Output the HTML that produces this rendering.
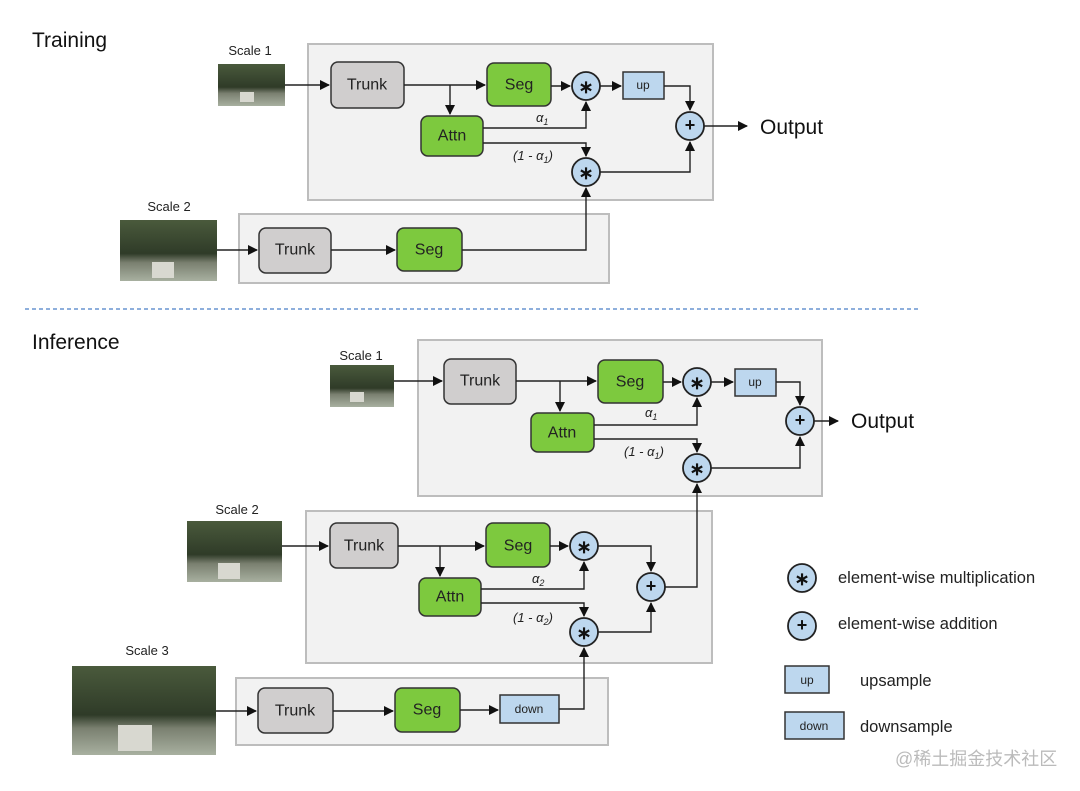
<!DOCTYPE html>
<html><head><meta charset="utf-8"><style>
html,body{margin:0;padding:0;background:#fff;}
svg{display:block;}
text{font-family:"Liberation Sans","Noto Sans CJK SC",sans-serif;}
</style></head><body>
<svg width="1080" height="791" viewBox="0 0 1080 791" xmlns="http://www.w3.org/2000/svg">
<defs>
<marker id="a" markerWidth="10" markerHeight="10" refX="9" refY="5" orient="auto" markerUnits="userSpaceOnUse"><path d="M0,0 L10,5 L0,10 z" fill="#111"/></marker>
<linearGradient id="img" x1="0" y1="0" x2="0" y2="1"><stop offset="0" stop-color="#4a5a3c"/><stop offset="0.55" stop-color="#2f3b28"/><stop offset="0.7" stop-color="#7a8070"/><stop offset="1" stop-color="#a8b0a0"/></linearGradient>
</defs>
<style>
.bx{fill:#f2f2f2;stroke:#bdbdbd;stroke-width:2}
.tr{fill:#d0cece;stroke:#333;stroke-width:1.5}
.gr{fill:#7dc93e;stroke:#333;stroke-width:1.5}
.bl{fill:#bdd7ee;stroke:#333;stroke-width:1.5}
.ci{fill:#bdd7ee;stroke:#222;stroke-width:1.8}
.ln{fill:none;stroke:#222;stroke-width:1.4}
.t{font-size:16px;fill:#222;text-anchor:middle;dominant-baseline:central}
.s{font-size:12px;fill:#222;text-anchor:middle;dominant-baseline:central}
.l{font-size:13px;fill:#222;text-anchor:middle}
.op{font-size:18px;font-weight:bold;fill:#111;text-anchor:middle;dominant-baseline:central}
.h{font-size:21px;fill:#111}
.g{font-size:13px;fill:#222;font-style:italic}
.lg{font-size:16.5px;fill:#222}
</style>

<!-- TRAINING -->
<text x="32" y="47" class="h">Training</text>
<rect x="308" y="44" width="405" height="156" class="bx"/>
<rect x="239" y="214" width="370" height="69" class="bx"/>
<text x="250" y="55" class="l">Scale 1</text>
<rect x="218" y="64" width="67" height="42" fill="url(#img)"/><rect x="240" y="92" width="14" height="10" fill="#d8d8d0"/>
<text x="169" y="211" class="l">Scale 2</text>
<rect x="120" y="220" width="97" height="61" fill="url(#img)"/><rect x="152" y="262" width="22" height="16" fill="#d8d8d0"/>

<rect x="331" y="62" width="73" height="46" rx="7" class="tr"/><text x="367" y="85" class="t">Trunk</text>
<rect x="487" y="63" width="64" height="43" rx="7" class="gr"/><text x="519" y="85" class="t">Seg</text>
<rect x="421" y="116" width="62" height="40" rx="7" class="gr"/><text x="452" y="136" class="t">Attn</text>
<rect x="623" y="72" width="41" height="27" class="bl"/><text x="643" y="85" class="s">up</text>
<circle cx="586" cy="86" r="14" class="ci"/><text x="586" y="87" class="op">∗</text>
<circle cx="586" cy="172" r="14" class="ci"/><text x="586" y="173" class="op">∗</text>
<circle cx="690" cy="126" r="14" class="ci"/><text x="690" y="125" class="op">+</text>
<text x="536" y="122" class="g">α<tspan font-size="9" dy="3">1</tspan></text>
<text x="513" y="160" class="g" font-style="normal">(1 - <tspan font-style="italic">α</tspan><tspan font-size="9" dy="3">1</tspan><tspan dy="-3">)</tspan></text>
<text x="760" y="134" class="h">Output</text>

<path d="M285,85 H329" class="ln" marker-end="url(#a)"/>
<path d="M404,85 H485" class="ln" marker-end="url(#a)"/>
<path d="M450,85 V114" class="ln" marker-end="url(#a)"/>
<path d="M551,86 H570" class="ln" marker-end="url(#a)"/>
<path d="M600,86 H621" class="ln" marker-end="url(#a)"/>
<path d="M664,86 H690 V110" class="ln" marker-end="url(#a)"/>
<path d="M483,128 H586 V102" class="ln" marker-end="url(#a)"/>
<path d="M483,143 H586 V156" class="ln" marker-end="url(#a)"/>
<path d="M600,172 H690 V142" class="ln" marker-end="url(#a)"/>
<path d="M704,126 H747" class="ln" marker-end="url(#a)"/>
<rect x="259" y="228" width="72" height="45" rx="7" class="tr"/><text x="295" y="250" class="t">Trunk</text>
<rect x="397" y="228" width="65" height="43" rx="7" class="gr"/><text x="429" y="250" class="t">Seg</text>
<path d="M217,250 H257" class="ln" marker-end="url(#a)"/>
<path d="M331,250 H395" class="ln" marker-end="url(#a)"/>
<path d="M462,250 H586 V188" class="ln" marker-end="url(#a)"/>

<line x1="25" y1="309" x2="918" y2="309" stroke="#4a7fc8" stroke-width="1.3" stroke-dasharray="4,3"/>

<!-- INFERENCE -->
<text x="32" y="349" class="h">Inference</text>
<rect x="418" y="340" width="404" height="156" class="bx"/>
<rect x="306" y="511" width="406" height="152" class="bx"/>
<rect x="236" y="678" width="372" height="67" class="bx"/>

<text x="361" y="360" class="l">Scale 1</text>
<rect x="330" y="365" width="64" height="42" fill="url(#img)"/><rect x="350" y="392" width="14" height="10" fill="#d8d8d0"/>
<text x="237" y="514" class="l">Scale 2</text>
<rect x="187" y="521" width="95" height="61" fill="url(#img)"/><rect x="218" y="563" width="22" height="16" fill="#d8d8d0"/>
<text x="147" y="655" class="l">Scale 3</text>
<rect x="72" y="666" width="144" height="89" fill="url(#img)"/><rect x="118" y="725" width="34" height="26" fill="#d8d8d0"/>

<!-- scale1 -->
<rect x="444" y="359" width="72" height="45" rx="7" class="tr"/><text x="480" y="381" class="t">Trunk</text>
<rect x="598" y="360" width="65" height="43" rx="7" class="gr"/><text x="630" y="382" class="t">Seg</text>
<rect x="531" y="413" width="63" height="39" rx="7" class="gr"/><text x="562" y="433" class="t">Attn</text>
<rect x="735" y="369" width="41" height="27" class="bl"/><text x="755" y="382" class="s">up</text>
<circle cx="697" cy="382" r="14" class="ci"/><text x="697" y="383" class="op">∗</text>
<circle cx="697" cy="468" r="14" class="ci"/><text x="697" y="469" class="op">∗</text>
<circle cx="800" cy="421" r="14" class="ci"/><text x="800" y="420" class="op">+</text>
<text x="645" y="417" class="g">α<tspan font-size="9" dy="3">1</tspan></text>
<text x="624" y="456" class="g" font-style="normal">(1 - <tspan font-style="italic">α</tspan><tspan font-size="9" dy="3">1</tspan><tspan dy="-3">)</tspan></text>
<text x="851" y="428" class="h">Output</text>
<path d="M394,381 H442" class="ln" marker-end="url(#a)"/>
<path d="M516,381 H596" class="ln" marker-end="url(#a)"/>
<path d="M560,381 V411" class="ln" marker-end="url(#a)"/>
<path d="M663,382 H681" class="ln" marker-end="url(#a)"/>
<path d="M711,382 H733" class="ln" marker-end="url(#a)"/>
<path d="M776,382 H800 V405" class="ln" marker-end="url(#a)"/>
<path d="M594,425 H697 V398" class="ln" marker-end="url(#a)"/>
<path d="M594,439 H697 V452" class="ln" marker-end="url(#a)"/>
<path d="M711,468 H800 V437" class="ln" marker-end="url(#a)"/>
<path d="M814,421 H838" class="ln" marker-end="url(#a)"/>

<!-- scale2 -->
<rect x="330" y="523" width="68" height="45" rx="7" class="tr"/><text x="364" y="546" class="t">Trunk</text>
<rect x="486" y="523" width="64" height="44" rx="7" class="gr"/><text x="518" y="546" class="t">Seg</text>
<rect x="419" y="578" width="62" height="38" rx="7" class="gr"/><text x="450" y="597" class="t">Attn</text>
<circle cx="584" cy="546" r="14" class="ci"/><text x="584" y="547" class="op">∗</text>
<circle cx="584" cy="632" r="14" class="ci"/><text x="584" y="633" class="op">∗</text>
<circle cx="651" cy="587" r="14" class="ci"/><text x="651" y="586" class="op">+</text>
<text x="532" y="583" class="g">α<tspan font-size="9" dy="3">2</tspan></text>
<text x="513" y="622" class="g" font-style="normal">(1 - <tspan font-style="italic">α</tspan><tspan font-size="9" dy="3">2</tspan><tspan dy="-3">)</tspan></text>
<path d="M282,546 H328" class="ln" marker-end="url(#a)"/>
<path d="M398,546 H484" class="ln" marker-end="url(#a)"/>
<path d="M440,546 V576" class="ln" marker-end="url(#a)"/>
<path d="M550,546 H568" class="ln" marker-end="url(#a)"/>
<path d="M598,546 H651 V571" class="ln" marker-end="url(#a)"/>
<path d="M481,589 H584 V562" class="ln" marker-end="url(#a)"/>
<path d="M481,603 H584 V616" class="ln" marker-end="url(#a)"/>
<path d="M598,632 H651 V603" class="ln" marker-end="url(#a)"/>
<path d="M665,587 H697 V484" class="ln" marker-end="url(#a)"/>

<!-- scale3 -->
<rect x="258" y="688" width="75" height="45" rx="7" class="tr"/><text x="295" y="711" class="t">Trunk</text>
<rect x="395" y="688" width="65" height="44" rx="7" class="gr"/><text x="427" y="710" class="t">Seg</text>
<rect x="500" y="695" width="59" height="28" class="bl"/><text x="529" y="709" class="s">down</text>
<path d="M216,711 H256" class="ln" marker-end="url(#a)"/>
<path d="M333,711 H393" class="ln" marker-end="url(#a)"/>
<path d="M460,710 H498" class="ln" marker-end="url(#a)"/>
<path d="M559,709 H584 V648" class="ln" marker-end="url(#a)"/>

<!-- legend -->
<circle cx="802" cy="578" r="14" class="ci"/><text x="802" y="579" class="op">∗</text>
<text x="838" y="583" class="lg">element-wise multiplication</text>
<circle cx="802" cy="626" r="14" class="ci"/><text x="802" y="625" class="op">+</text>
<text x="838" y="629" class="lg">element-wise addition</text>
<rect x="785" y="666" width="44" height="27" class="bl"/><text x="807" y="680" class="s">up</text>
<text x="860" y="686" class="lg">upsample</text>
<rect x="785" y="712" width="59" height="27" class="bl"/><text x="814" y="726" class="s">down</text>
<text x="860" y="732" class="lg">downsample</text>
<text x="895" y="765" font-size="18" fill="#bbb">@稀土掘金技术社区</text>
</svg>
</body></html>
